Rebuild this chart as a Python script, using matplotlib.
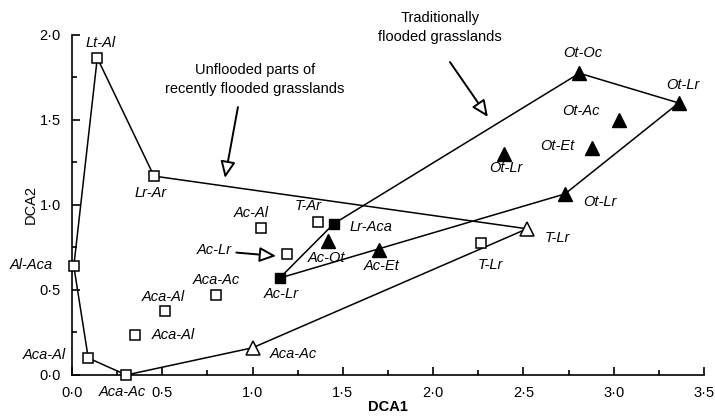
import numpy as np
import matplotlib
matplotlib.use("Agg")
import matplotlib.pyplot as plt
from matplotlib.ticker import MultipleLocator, FuncFormatter

plt.rcParams['font.family'] = ['Liberation Sans', 'DejaVu Sans']

# Datos: coordenadas DCA1 / DCA2 leidas del grafico
# cuadrados abiertos (partes no inundadas de praderas inundadas recientemente)
sq_open_x = [0.14, 0.454, 0.01, 0.09, 0.30, 0.35, 0.515, 0.80, 1.047, 1.36, 1.19, 2.265]
sq_open_y = [1.865, 1.17, 0.64, 0.10, 0.0, 0.235, 0.376, 0.47, 0.865, 0.90, 0.71, 0.776]
sq_open_lab = ['Lt-Al', 'Lr-Ar', 'Al-Aca', 'Aca-Al', 'Aca-Ac', 'Aca-Al', 'Aca-Al',
               'Aca-Ac', 'Ac-Al', 'T-Ar', '', 'T-Lr']

# triangulos abiertos
tri_open_x = [2.52, 1.0]
tri_open_y = [0.86, 0.16]
tri_open_lab = ['T-Lr', 'Aca-Ac']

# cuadrados rellenos
sq_fill_x = [1.45, 1.15]
sq_fill_y = [0.89, 0.57]
sq_fill_lab = ['Lr-Aca', 'Ac-Lr']

# triangulos rellenos (praderas inundadas tradicionalmente)
tri_fill_x = [1.42, 1.70, 2.81, 3.36, 3.03, 2.88, 2.39, 2.73]
tri_fill_y = [0.79, 0.735, 1.775, 1.60, 1.50, 1.335, 1.30, 1.065]
tri_fill_lab = ['Ac-Ot', 'Ac-Et', 'Ot-Oc', 'Ot-Lr', 'Ot-Ac', 'Ot-Et', 'Ot-Lr', 'Ot-Lr']

# desplazamiento de etiquetas (pixeles)
sq_open_off = [(3, 15), (-3, -17), (-43, 1), (-44, 3), (-4, -17), (38, 0), (-2, 14),
               (0, 15), (-10, 15), (-9, 16), (0, 0), (9, -22)]
tri_open_off = [(30, -9), (41, -6)]
sq_fill_off = [(37, -3), (2, -16)]
tri_fill_off = [(-2, -17), (3, -16), (3, 20), (4, 18), (-38, 9), (-35, 2), (2, -14), (35, -8)]

# contornos: (grupo, indice)
contorno_1 = [('so', 0), ('so', 1), ('to', 0), ('to', 1), ('so', 4), ('so', 3), ('so', 2), ('so', 0)]
contorno_2 = [('sf', 1), ('sf', 0), ('tf', 2), ('tf', 3), ('tf', 7), ('sf', 1)]

grupos = {
    'so': (sq_open_x, sq_open_y),
    'to': (tri_open_x, tri_open_y),
    'sf': (sq_fill_x, sq_fill_y),
    'tf': (tri_fill_x, tri_fill_y),
}

fig = plt.figure(figsize=(7.15, 4.16), dpi=100)
ax = fig.add_axes([0.1007, 0.0986, 0.8839, 0.8173])

for contorno in [contorno_1, contorno_2]:
    cx = [grupos[g][0][i] for g, i in contorno]
    cy = [grupos[g][1][i] for g, i in contorno]
    ax.plot(cx, cy, color='black', lw=1.1, zorder=2, clip_on=False)

ax.plot(sq_open_x, sq_open_y, 's', ms=7.5, mfc='white', mec='black', mew=1.1,
        ls='none', zorder=3, clip_on=False)
ax.plot(tri_open_x, tri_open_y, '^', ms=9.5, mfc='white', mec='black', mew=1.1,
        ls='none', zorder=3, clip_on=False)
ax.plot(sq_fill_x, sq_fill_y, 's', ms=7.5, mfc='black', mec='black',
        ls='none', zorder=3, clip_on=False)
ax.plot(tri_fill_x, tri_fill_y, '^', ms=9.5, mfc='black', mec='black',
        ls='none', zorder=3, clip_on=False)

def etiquetas(xs, ys, labs, offs):
    for xv, yv, t, (dx, dy) in zip(xs, ys, labs, offs):
        if t:
            ax.annotate(t, (xv, yv), xytext=(dx, dy), textcoords='offset pixels',
                        ha='center', va='center', fontsize=10.5, style='italic',
                        annotation_clip=False)

etiquetas(sq_open_x, sq_open_y, sq_open_lab, sq_open_off)
etiquetas(tri_open_x, tri_open_y, tri_open_lab, tri_open_off)
etiquetas(sq_fill_x, sq_fill_y, sq_fill_lab, sq_fill_off)
etiquetas(tri_fill_x, tri_fill_y, tri_fill_lab, tri_fill_off)

# flechas y textos explicativos
flecha = dict(arrowstyle='-|>,head_length=1.0,head_width=0.45', fc='white', ec='black',
              lw=1.4, shrinkA=0, shrinkB=0)
ax.text(0.789, 0.735, 'Ac-Lr', ha='center', va='center', fontsize=10.5, style='italic')
ax.annotate('', xy=(1.13, 0.70), xytext=(0.91, 0.72), arrowprops=flecha)

ax.text(1.013, 1.794, 'Unflooded parts of', ha='center', va='center', fontsize=10.5)
ax.text(1.013, 1.68, 'recently flooded grasslands', ha='center', va='center', fontsize=10.5)
ax.annotate('', xy=(0.847, 1.159), xytext=(0.919, 1.576), arrowprops=flecha)

ax.text(2.04, 2.10, 'Traditionally', ha='center', va='center', fontsize=10.5, clip_on=False)
ax.text(2.04, 1.99, 'flooded grasslands', ha='center', va='center', fontsize=10.5, clip_on=False)
ax.annotate('', xy=(2.303, 1.518), xytext=(2.093, 1.841), arrowprops=flecha,
            annotation_clip=False)

# ejes
ax.set_xlim(0, 3.5)
ax.set_ylim(0, 2.0)
ax.spines['top'].set_visible(False)
ax.spines['right'].set_visible(False)
ax.spines['left'].set_linewidth(1.2)
ax.spines['bottom'].set_linewidth(1.2)
ax.xaxis.set_major_locator(MultipleLocator(0.5))
ax.xaxis.set_minor_locator(MultipleLocator(0.25))
ax.yaxis.set_major_locator(MultipleLocator(0.5))
ax.yaxis.set_minor_locator(MultipleLocator(0.25))
fmt = FuncFormatter(lambda v, p: f"{v:.1f}".replace('.', '\u00b7'))
ax.xaxis.set_major_formatter(fmt)
ax.yaxis.set_major_formatter(fmt)
ax.tick_params(which='major', direction='in', length=6, width=1.2, labelsize=10.5, pad=8)
ax.tick_params(which='minor', direction='in', length=3.5, width=1.2)
ax.set_xlabel('DCA1', fontsize=10.5, fontweight='bold', labelpad=0)
ax.set_ylabel('DCA2', fontsize=10.5, labelpad=1)

fig.savefig('out.png', dpi=100)
